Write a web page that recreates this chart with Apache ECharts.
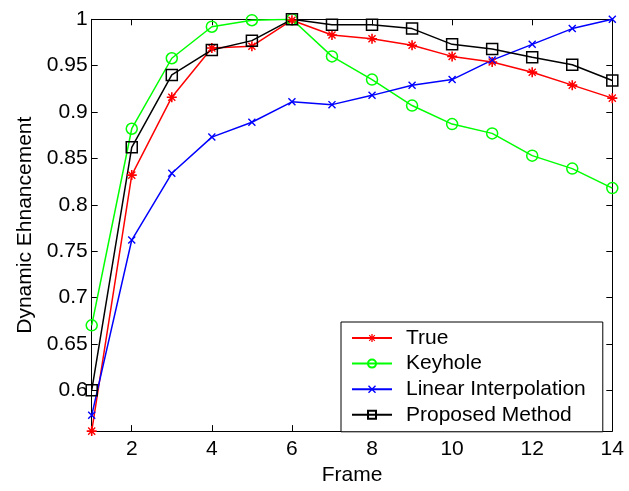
<!DOCTYPE html>
<html>
<head>
<meta charset="utf-8">
<script src="https://cdn.jsdelivr.net/npm/echarts@6/dist/echarts.min.js"></script>
<style>html,body{margin:0;padding:0;background:#fff}#c{width:629px;height:491px}</style>
</head>
<body>
<div id="c"></div>
<script>
const frames = [1,2,3,4,5,6,7,8,9,10,11,12,13,14];
const trueVals = [0.556,0.832,0.916,0.969,0.971,0.999,0.983,0.979,0.972,0.960,0.954,0.943,0.929,0.915];
const keyholeVals = [0.670,0.882,0.958,0.992,0.999,1.000,0.960,0.935,0.907,0.887,0.877,0.853,0.839,0.818];
const linearVals = [0.573,0.762,0.834,0.873,0.889,0.911,0.908,0.918,0.929,0.935,0.956,0.973,0.990,1.000];
const proposedVals = [0.600,0.862,0.940,0.967,0.977,1.000,0.994,0.994,0.990,0.973,0.968,0.959,0.951,0.934];
const xTicks = [2,4,6,8,10,12,14];
const yTicks = [0.6,0.65,0.7,0.75,0.8,0.85,0.9,0.95,1];
const seriesNames = ['True','Keyhole','Linear Interpolation','Proposed Method'];

const FONT = '"Liberation Sans", Arial, sans-serif';
const starPath = 'path://M-5,-0.8L5,-0.8L5,0.8L-5,0.8Z M-0.8,-5L0.8,-5L0.8,5L-0.8,5Z M-3.04,-4.03L4.03,3.04L3.04,4.03L-4.03,-3.04Z M3.04,-4.03L4.03,-3.04L-3.04,4.03L-4.03,3.04Z';
const xPath = 'path://M-3.04,-4.03L4.03,3.04L3.04,4.03L-4.03,-3.04Z M3.04,-4.03L4.03,-3.04L-3.04,4.03L-4.03,3.04Z';

function pairs(v){ return frames.map((f,i)=>[f,v[i]]); }
const fmt = v => String(+(+v).toFixed(2));

function mk(name, vals, color, symbol, size, hollow){
  return {
    name, type:'line', data: pairs(vals), symbol, symbolSize: size,
    symbolKeepAspect: true,
    lineStyle:{color, width:1.5},
    itemStyle: hollow ? {color:'rgba(255,255,255,0)', borderColor:color, borderWidth:1.5}
                      : {color, borderWidth:0},
    emphasis:{disabled:true}, z: 2
  };
}

const chart = echarts.init(document.getElementById('c'), null, {renderer:'canvas'});
const axisLine = {show:true, lineStyle:{color:'#000', width:1}};
chart.setOption({
  animation:false,
  backgroundColor:'#fff',
  textStyle:{fontFamily:FONT},
  grid:{left:91.7, top:19.3, right:16.7, bottom:51.7, containLabel:false},
  xAxis:[{
    type:'value', min:1, max:14,
    name:'Frame', nameLocation:'middle', nameGap:27,
    nameTextStyle:{fontFamily:FONT, fontSize:21, color:'#000'},
    axisLine, splitLine:{show:false},
    axisTick:{show:true, inside:true, length:6, customValues:xTicks, lineStyle:{color:'#000'}},
    axisLabel:{customValues:xTicks, formatter:fmt, fontFamily:FONT, fontSize:21, color:'#000', margin:8}
  },{
    type:'value', min:1, max:14, position:'top',
    axisLine, splitLine:{show:false},
    axisTick:{show:true, inside:true, length:6, customValues:xTicks, lineStyle:{color:'#000'}},
    axisLabel:{show:false}
  }],
  yAxis:[{
    type:'value', min:0.556, max:1,
    name:'Dynamic Ehnancement', nameLocation:'middle', nameGap:55, nameRotate:90,
    nameTextStyle:{fontFamily:FONT, fontSize:21, color:'#000'},
    axisLine, splitLine:{show:false},
    axisTick:{show:true, inside:true, length:6, customValues:yTicks, lineStyle:{color:'#000'}},
    axisLabel:{customValues:yTicks, formatter:fmt, fontFamily:FONT, fontSize:21, color:'#000', margin:4}
  },{
    type:'value', min:0.556, max:1, position:'right',
    axisLine, splitLine:{show:false},
    axisTick:{show:true, inside:true, length:6, customValues:yTicks, lineStyle:{color:'#000'}},
    axisLabel:{show:false}
  }],
  legend:{
    orient:'vertical', left:341, top:322,
    data: seriesNames,
    backgroundColor:'#fff', borderColor:'#000', borderWidth:1,
    padding:[5,17,6,10],
    itemWidth:40, itemHeight:10, itemGap:3.6,
    textStyle:{fontFamily:FONT, fontSize:21, color:'#000', lineHeight:22, padding:[0,0,0,9]},
    selectedMode:false
  },
  series:[
    mk(seriesNames[0], trueVals, '#ff0000', starPath, 10, false),
    mk(seriesNames[1], keyholeVals, '#00ff00', 'circle', 11, true),
    mk(seriesNames[2], linearVals, '#0000ff', xPath, 8, false),
    mk(seriesNames[3], proposedVals, '#000000', 'rect', 11, true)
  ]
});
</script>
</body>
</html>
